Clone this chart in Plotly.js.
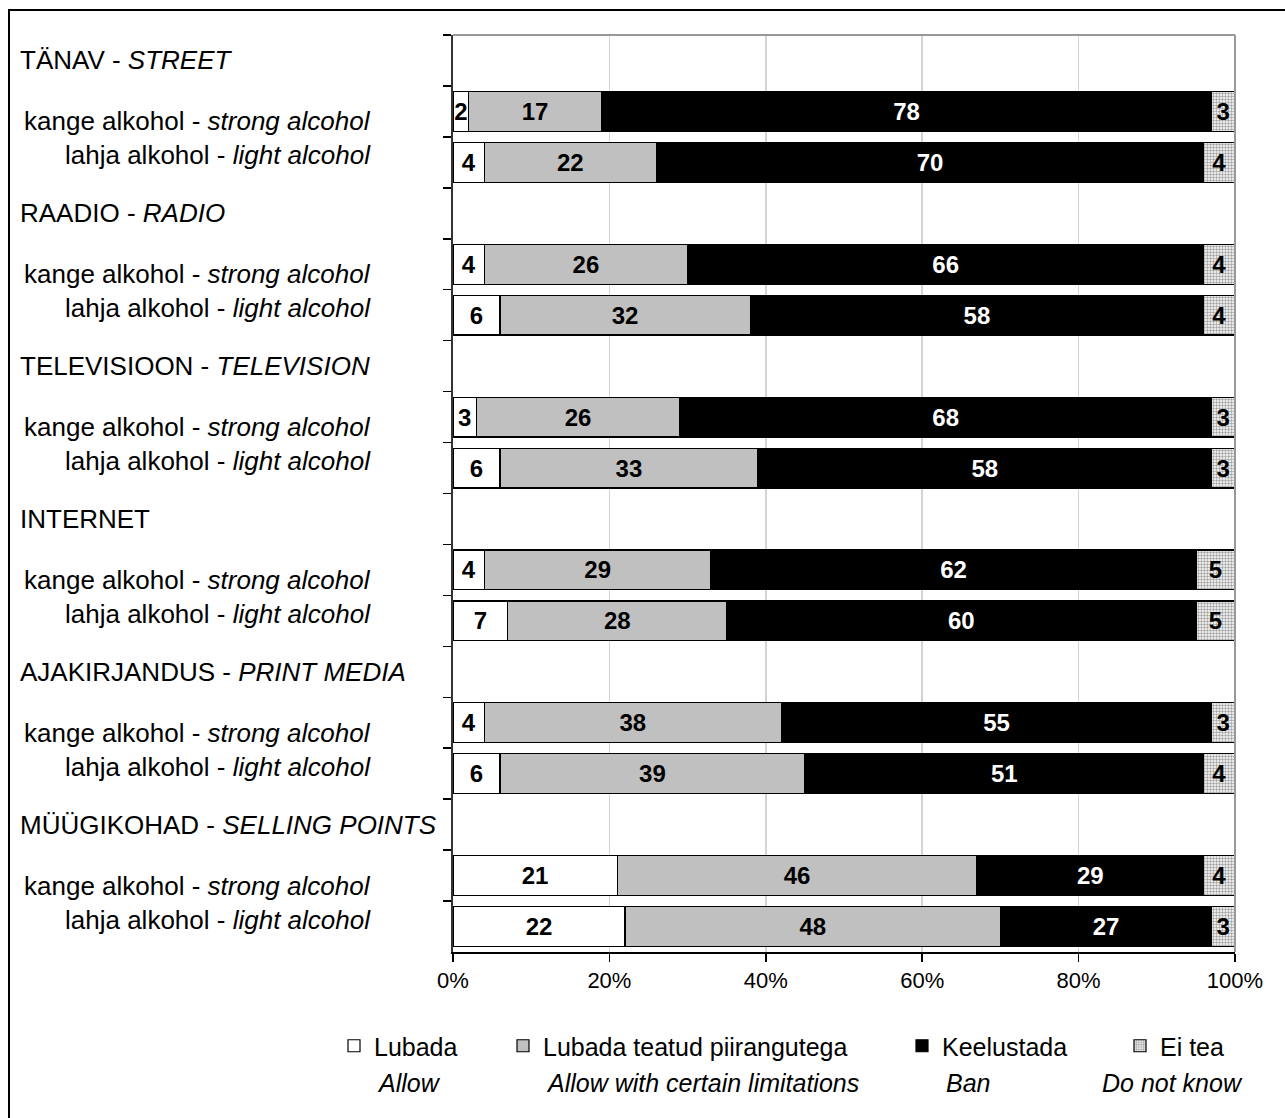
<!DOCTYPE html>
<html>
<head>
<meta charset="utf-8">
<script src="https://cdn.plot.ly/plotly-3.0.1.min.js"></script>
<style>
  html, body { margin: 0; padding: 0; background: #fff; overflow: hidden; }
  #chart { position: absolute; left: 0; top: 0; width: 1285px; height: 1118px; }
  #frame { position: absolute; left: 8px; top: 9px; width: 1300px; height: 1200px;
           border: 2px solid #000; pointer-events: none; box-sizing: border-box; }
</style>
</head>
<body>
<div id="chart"></div>
<div id="frame"></div>
<script>
// ---- data ----
const groups   = ['TÄNAV', 'RAADIO', 'TELEVISIOON', 'INTERNET', 'AJAKIRJANDUS', 'MÜÜGIKOHAD'];
const groupsEn = ['STREET', 'RADIO', 'TELEVISION', '', 'PRINT MEDIA', 'SELLING POINTS'];
const types    = ['kange alkohol', 'lahja alkohol'];
const typesEn  = ['strong alcohol', 'light alcohol'];

// order: for each group -> strong, light
const allow   = [2, 4,   4, 6,   3, 6,   4, 7,   4, 6,   21, 22];
const limited = [17, 22, 26, 32, 26, 33, 29, 28, 38, 39, 46, 48];
const ban     = [78, 70, 66, 58, 68, 58, 62, 60, 55, 51, 29, 27];
const dontKnow= [3, 4,   4, 4,   3, 3,   5, 5,   3, 4,   4, 3];

const seriesNames = ['Lubada', 'Lubada teatud piirangutega', 'Keelustada', 'Ei tea'];
const seriesEn    = ['Allow', 'Allow with certain limitations', 'Ban', 'Do not know'];
const xTicks      = [0, 20, 40, 60, 80, 100];
const xTickText   = ['0%', '20%', '40%', '60%', '80%', '100%'];

// ---- build categories ----
const catOrder = [];
const barKeys = [];
groups.forEach((g, i) => {
  catOrder.push(g);
  types.forEach(t => { const k = g + ' · ' + t; catOrder.push(k); barKeys.push(k); });
});

const FONT = 'Liberation Sans, Arial, sans-serif';
const FS_ROW = 26;  // row labels
const FS = 25;      // legend
const FS_BAR = 24;  // bar values
const FS_TICK = 22; // axis ticks

const seriesVals = [allow, limited, ban, dontKnow];
const fills = ['#ffffff', '#c0c0c0', '#000000', '#ffffff'];
const textCols = ['#000', '#000', '#fff', '#000'];
const legendIds = ['legend', 'legend2', 'legend3', 'legend4'];

const traces = seriesVals.map((vals, s) => {
  const tr = {
    type: 'bar', orientation: 'h',
    name: seriesNames[s],
    y: barKeys, x: vals,
    text: vals.map(String),
    textposition: 'inside', insidetextanchor: 'middle', textangle: 0,
    textfont: { family: FONT, size: FS_BAR, color: textCols[s], weight: 700 },
    marker: { color: fills[s], line: { color: '#000', width: 1.2 } },
    legend: legendIds[s],
    hoverinfo: 'x+name'
  };
  if (s === 3) {
    tr.marker.pattern = { shape: '.', fgcolor: '#444', bgcolor: '#fff', size: 3, solidity: 0.5, fillmode: 'overlay' };
  }
  return tr;
});

// ---- annotations: row labels ----
const annotations = [];
const PL = 453, PW = 782, PT = 35, PH = 917;
const px2x = p => (p - PL) / PW;
const py2y = p => (PT + PH - p) / PH;

groups.forEach((g, i) => {
  annotations.push({
    xref: 'paper', yref: 'y', x: px2x(18), y: g, xanchor: 'left', yanchor: 'middle',
    text: groupsEn[i] ? g + ' - <i>' + groupsEn[i] + '</i>' : g,
    showarrow: false, font: { family: FONT, size: FS_ROW, color: '#000' }
  });
  types.forEach((t, j) => {
    annotations.push({
      xref: 'paper', yref: 'y', x: px2x(373), y: g + ' · ' + t, xanchor: 'right', yanchor: 'middle',
      yshift: j === 0 ? -10 : 7,
      text: t + ' - <i>' + typesEn[j] + '</i>',
      showarrow: false, font: { family: FONT, size: FS_ROW, color: '#000' }
    });
  });
});

// English legend lines
const enCenters = [409, 702, 968, 1172];
seriesEn.forEach((e, s) => {
  annotations.push({
    xref: 'paper', yref: 'paper', x: px2x(enCenters[s]), y: py2y(1083),
    xanchor: 'center', yanchor: 'middle', text: '<i>' + e + '</i>',
    showarrow: false, font: { family: FONT, size: FS, color: '#000' }
  });
});

const legX = [334, 503, 902, 1120];
const layout = {
  width: 1285, height: 1118,
  margin: { l: PL, r: 1285 - PL - PW, t: PT, b: 1118 - PT - PH },
  paper_bgcolor: '#fff', plot_bgcolor: '#fff',
  barmode: 'stack', bargap: 0.22,
  font: { family: FONT, size: FS, color: '#000' },
  uniformtext: { mode: 'show', minsize: FS_BAR },
  xaxis: {
    range: [0, 100], tickvals: xTicks, ticktext: xTickText,
    ticks: 'outside', ticklen: 8, tickcolor: '#000', tickwidth: 1.5,
    showline: true, linecolor: '#000', linewidth: 2,
    showgrid: true, gridcolor: '#d4d4d4', gridwidth: 1.5, zeroline: false,
    tickfont: { family: FONT, size: FS_TICK, color: '#000' }, fixedrange: true
  },
  yaxis: {
    type: 'category', categoryorder: 'array', categoryarray: catOrder,
    range: [catOrder.length - 0.5, -0.5], autorange: false, showticklabels: false,
    ticks: 'outside', tickson: 'boundaries', ticklen: 8, tickcolor: '#000', tickwidth: 1.5,
    showline: true, linecolor: '#333', linewidth: 2, showgrid: false, zeroline: false, fixedrange: true
  },
  shapes: [
    { type: 'line', xref: 'paper', yref: 'paper', x0: 0, x1: 1, y0: 1, y1: 1, line: { color: '#999', width: 2 } },
    { type: 'line', xref: 'paper', yref: 'paper', x0: 1, x1: 1, y0: 0, y1: 1, line: { color: '#999', width: 2 } }
  ],
  annotations: annotations,
  showlegend: true
};
legendIds.forEach((id, s) => {
  layout[id] = {
    x: px2x(legX[s]), y: py2y(1046), xanchor: 'left', yanchor: 'middle',
    orientation: 'h', itemwidth: 30, bgcolor: 'rgba(0,0,0,0)',
    font: { family: FONT, size: FS, color: '#000' }
  };
});

Plotly.newPlot('chart', traces, layout, { staticPlot: true, displayModeBar: false });
</script>
</body>
</html>
